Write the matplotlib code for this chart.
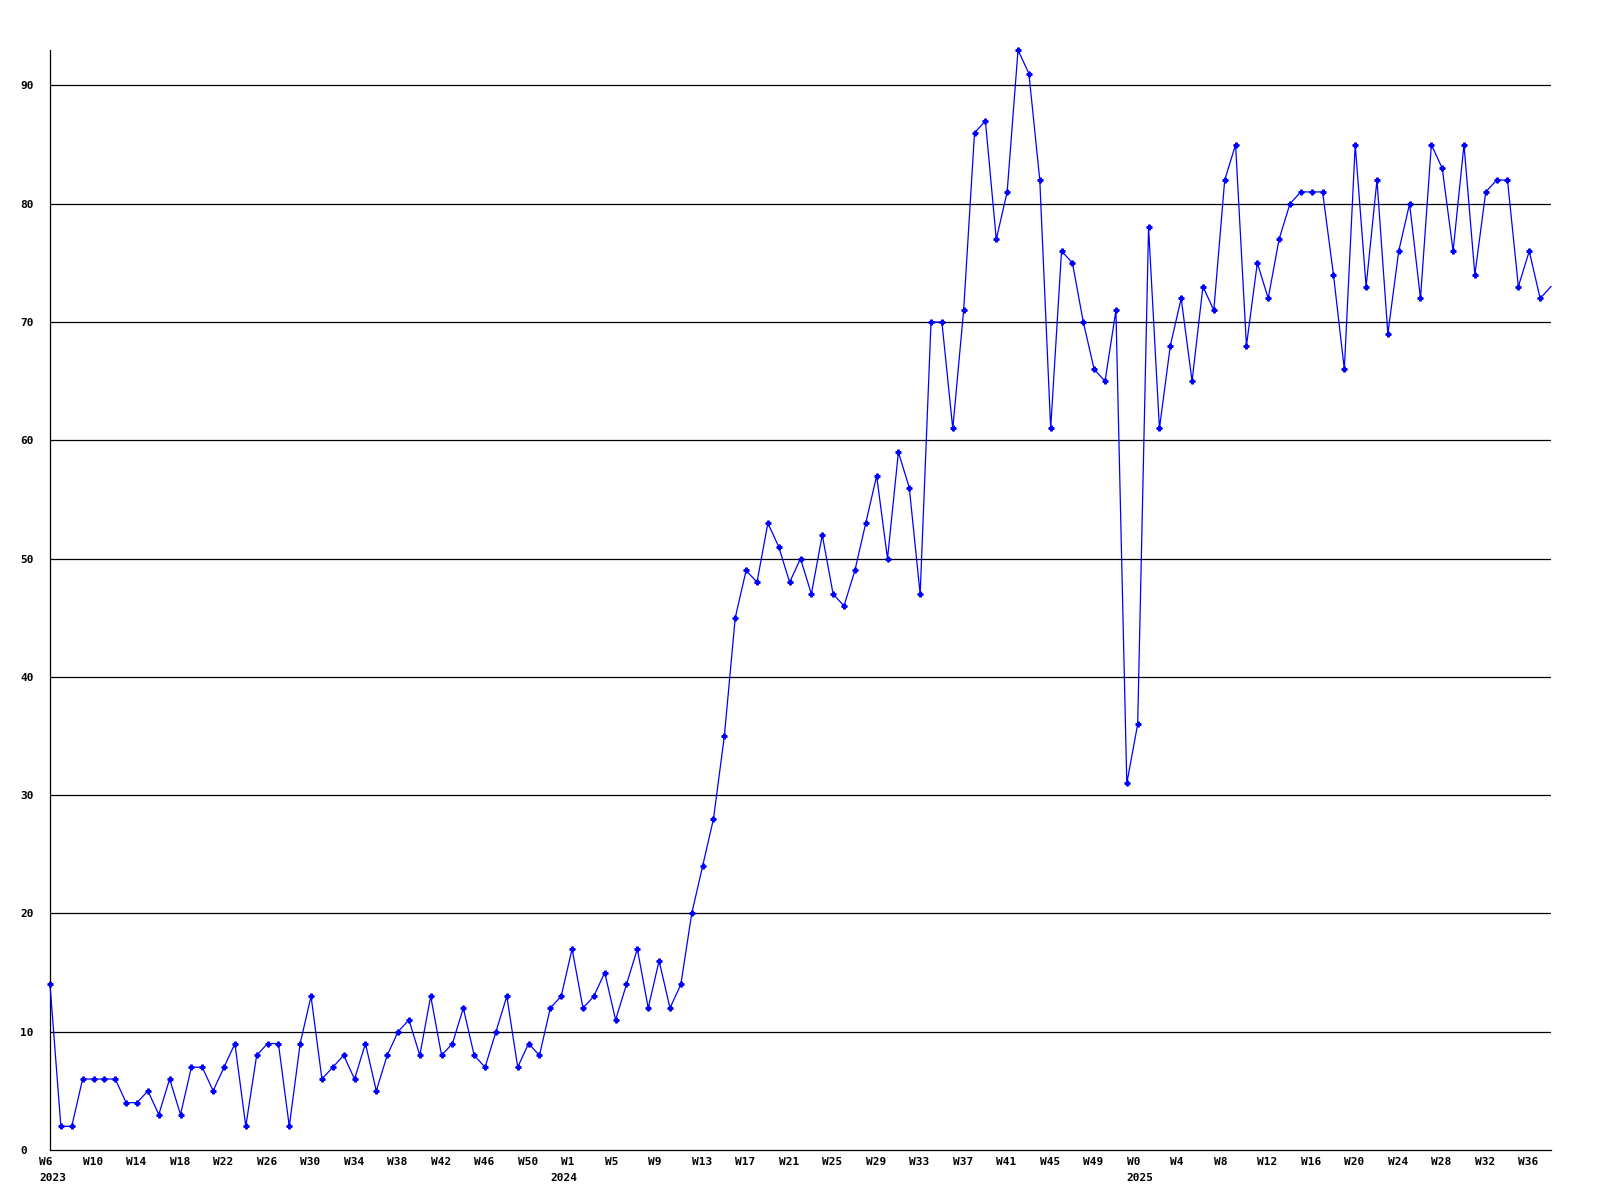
import numpy as np
import matplotlib
matplotlib.use('Agg')
import matplotlib.pyplot as plt

# weekly values, 2023 W6 .. 2025 W38
values_2023 = [14, 2, 2, 6, 6, 6, 6, 4, 4, 5, 3, 6, 3, 7, 7, 5, 7, 9, 2, 8, 9, 9, 2, 9,
               13, 6, 7, 8, 6, 9, 5, 8, 10, 11, 8, 13, 8, 9, 12, 8, 7, 10, 13, 7, 9, 8, 12, 13]
values_2024 = [17, 12, 13, 15, 11, 14, 17, 12, 16, 12, 14, 20, 24, 28, 35, 45, 49, 48, 53, 51,
               48, 50, 47, 52, 47, 46, 49, 53, 57, 50, 59, 56, 47, 70, 70, 61, 71, 86, 87, 77,
               81, 93, 91, 82, 61, 76, 75, 70, 66, 65, 71, 31]
values_2025 = [36, 78, 61, 68, 72, 65, 73, 71, 82, 85, 68, 75, 72, 77, 80, 81, 81, 81, 74, 66,
               85, 73, 82, 69, 76, 80, 72, 85, 83, 76, 85, 74, 81, 82, 82, 73, 76, 72, 73]

labels_2023 = ['W6', 'W10', 'W14', 'W18', 'W22', 'W26', 'W30', 'W34', 'W38', 'W42', 'W46', 'W50']
labels_2024 = ['W1', 'W5', 'W9', 'W13', 'W17', 'W21', 'W25', 'W29', 'W33', 'W37', 'W41', 'W45', 'W49']
labels_2025 = ['W0', 'W4', 'W8', 'W12', 'W16', 'W20', 'W24', 'W28', 'W32', 'W36']
years = ['2023', '2024', '2025']

y = values_2023 + values_2024 + values_2025
x = np.arange(len(y))
week_labels = labels_2023 + labels_2024 + labels_2025
year_start = [0, len(values_2023), len(values_2023) + len(values_2024)]

fig = plt.figure(figsize=(16, 12), dpi=100)
ax = fig.add_axes([50/1600, 50/1200, 1501/1600, 1100/1200])

font = dict(family='DejaVu Sans Mono', weight='bold', size=8)

for v in range(10, 100, 10):
    ax.axhline(v, color='black', lw=0.9, zorder=1)

# last point sits on the right edge, drawn without a marker
ax.plot(x, y, color='#0000ff', lw=0.9, marker='P', markersize=3.5,
        markevery=list(range(len(y) - 1)), zorder=3, clip_on=False)
ax.set_xlim(0, len(y) - 1)
ax.set_ylim(0, 93)

for s in ['top', 'right']:
    ax.spines[s].set_visible(False)
for s in ['left', 'bottom']:
    ax.spines[s].set_linewidth(0.9)
    ax.spines[s].set_color('black')

ax.set_xticks([])
ax.set_yticks(range(0, 100, 10))
ax.set_yticklabels([str(v) for v in range(0, 100, 10)], ha='left', **font)
ax.tick_params(axis='y', length=0, pad=21.6)

for i, lab in zip(range(0, len(y), 4), week_labels):
    ax.annotate(lab, xy=(i - 1, 0), xycoords='data', xytext=(0, -5),
                textcoords='offset points', ha='left', va='top', annotation_clip=False, **font)

for k, (s, yr) in enumerate(zip(year_start, years)):
    off = -2 if k == 1 else -1
    ax.annotate(yr, xy=(s + off, 0), xycoords='data', xytext=(0, -16.5),
                textcoords='offset points', ha='left', va='top', annotation_clip=False, **font)

fig.savefig('out.png', dpi=100)
